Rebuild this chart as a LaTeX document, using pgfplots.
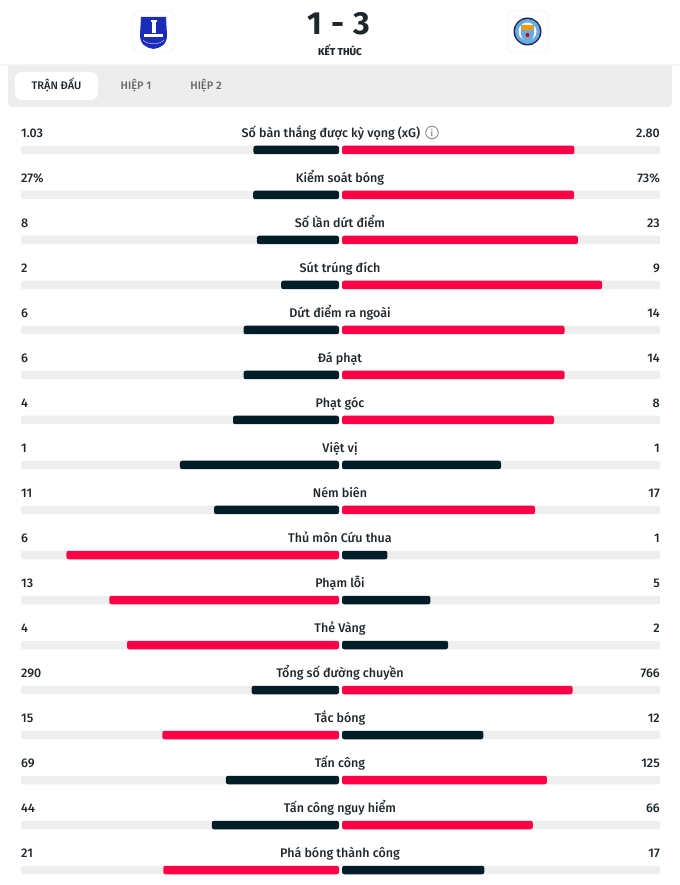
\documentclass[border=0pt]{standalone}
\usepackage{fontspec}
\IfFontExistsTF{Fira Sans Medium}{\setmainfont{Fira Sans}[UprightFont={* Medium}]}{\setmainfont{Fira Sans}}
\newfontfamily\scorefont{Fira Sans}
\usepackage{pgfplots}
\usepackage{pgfplotstable}
\pgfplotsset{compat=1.18}

\definecolor{mcred}{HTML}{FF0046}
\definecolor{dark}{HTML}{011E28}
\definecolor{track}{HTML}{EEEEEE}
\definecolor{txt}{HTML}{1E272C}
\definecolor{band}{HTML}{EDEDED}
\definecolor{evblue}{HTML}{1B2DB8}
\definecolor{cityblue}{HTML}{6CABDD}
\definecolor{citynavy}{HTML}{1C2C5B}

% a = Everton (left), b = Man City (right)
\pgfplotstableread{
a b
1.03 2.80
27 73
8 23
2 9
6 14
6 14
4 8
1 1
11 17
6 1
13 5
4 2
290 766
15 12
69 125
44 66
21 17
}\stats

\pgfplotsset{
  statax/.style={scale only axis, width=318bp, height=765bp,
    xmin=0, xmax=1, ymin=-0.5, ymax=16.5, y dir=reverse,
    hide axis, clip=false, anchor=north west},
  barst/.style={xbar, bar width=8.5bp, bar shift=0pt, draw=none, rounded corners=2.2bp},
}

\newcommand\lbl{\fontsize{12.5bp}{15bp}\selectfont}

\begin{document}
\begin{tikzpicture}
\begin{scope}[x=1bp,y=1bp]
\fill[white] (0,0) rectangle (680,885);

% ---- header ----
\draw[black!8, fill=white, rounded corners=6bp] (133,885-11) rectangle (174,885-52);
\draw[black!8, fill=white, rounded corners=6bp] (507,885-11) rectangle (548,885-52);
% Everton crest (simplified)
\fill[evblue] (141,885-17) -- (166,885-17) -- (167,885-35)
  .. controls (167,885-45) and (160,885-48) .. (153.5,885-49)
  .. controls (147,885-48) and (140,885-45) .. (140,885-35) -- cycle;
\fill[white] (151.5,885-20) rectangle (155.5,885-33);
\fill[white] (150.5,885-20) rectangle (156.5,885-22);
\fill[white] (144,885-34) rectangle (163,885-37.5);
\draw[white!70!evblue, line width=0.5bp] (143,885-40) .. controls (147,885-45) and (160,885-45) .. (164,885-40);
% Man City crest (simplified)
\fill[citynavy] (527.5,885-31.5) circle (14);
\fill[cityblue] (527.5,885-31.5) circle (12.5);
\fill[white] (527.5,885-31.5) circle (9);
\fill[cityblue] (521,885-25) -- (534,885-25) -- (534,885-34) .. controls (534,885-39) and (530,885-41) .. (527.5,885-42) .. controls (525,885-41) and (521,885-39) .. (521,885-34) -- cycle;
\fill[orange!80!yellow] (522,885-25) rectangle (533,885-30);
\fill[red!80!black] (527.5,885-35) circle (2);

\node[font=\scorefont\bfseries\fontsize{32bp}{32bp}\selectfont, text=txt, anchor=base] at (339,885-35) {1\hspace*{9bp}-\hspace*{9bp}3};
\node[font=\bfseries\fontsize{10bp}{12bp}\selectfont, text=txt, anchor=base] at (340,885-55.5) {KẾT THÚC};

% ---- tabs band ----
\fill[black!4] (0,885-64) rectangle (680,885-66);
\fill[band, rounded corners=4bp] (8,885-66) rectangle (672,885-107);
\fill[band] (8,885-66) rectangle (672,885-72);
\fill[white, rounded corners=7bp] (15,885-72) rectangle (98,885-100);
\node[font=\fontsize{11bp}{13bp}\selectfont, text=txt, anchor=base] at (56.5,885-90) {TRẬN ĐẤU};
\node[font=\fontsize{11bp}{13bp}\selectfont, text=black!60, anchor=base] at (136,885-90) {HIỆP 1};
\node[font=\fontsize{11bp}{13bp}\selectfont, text=black!60, anchor=base] at (206,885-90) {HIỆP 2};
\end{scope}

% ---- left (Everton) bars ----
\begin{axis}[statax, x dir=reverse, at={(21bp,757.5bp)}]
\addplot[barst, fill=track] table[x expr=1, y expr=\coordindex]{\stats};
\addplot[barst, fill=mcred] table[x expr={\thisrow{a}>\thisrow{b} ? \thisrow{a}/(\thisrow{a}+\thisrow{b}) : nan}, y expr=\coordindex]{\stats};
\addplot[barst, fill=dark] table[x expr={\thisrow{a}>\thisrow{b} ? nan : \thisrow{a}/(\thisrow{a}+\thisrow{b})}, y expr=\coordindex]{\stats};
\end{axis}

% ---- right (Man City) bars ----
\begin{axis}[statax, at={(342bp,757.5bp)}]
\addplot[barst, fill=track] table[x expr=1, y expr=\coordindex]{\stats};
\addplot[barst, fill=mcred] table[x expr={\thisrow{b}>\thisrow{a} ? \thisrow{b}/(\thisrow{a}+\thisrow{b}) : nan}, y expr=\coordindex]{\stats};
\addplot[barst, fill=dark] table[x expr={\thisrow{b}>\thisrow{a} ? nan : \thisrow{b}/(\thisrow{a}+\thisrow{b})}, y expr=\coordindex]{\stats};
\end{axis}

\begin{scope}[x=1bp,y=1bp]
% ---- labels and values ----
\foreach \l/\va/\vb [count=\i from 0] in {
  {Số bàn thắng được kỳ vọng (xG)}/1.03/2.80,
  {Kiểm soát bóng}/27\%/73\%,
  {Số lần dứt điểm}/8/23,
  {Sút trúng đích}/2/9,
  {Dứt điểm ra ngoài}/6/14,
  {Đá phạt}/6/14,
  {Phạt góc}/4/8,
  {Việt vị}/1/1,
  {Ném biên}/11/17,
  {Thủ môn Cứu thua}/6/1,
  {Phạm lỗi}/13/5,
  {Thẻ Vàng}/4/2,
  {Tổng số đường chuyền}/290/766,
  {Tắc bóng}/15/12,
  {Tấn công}/69/125,
  {Tấn công nguy hiểm}/44/66,
  {Phá bóng thành công}/21/17} {
  \ifnum\i=0
    \node[font=\lbl, text=txt, anchor=base] at (331,885-137.5) {\l};
  \else
    \node[font=\lbl, text=txt, anchor=base] at (340,885-137.5-45*\i) {\l};
  \fi
  \node[font=\lbl, text=txt, anchor=base west, inner sep=0pt] at (21,885-137.5-45*\i) {\va};
  \node[font=\lbl, text=txt, anchor=base east, inner sep=0pt] at (660,885-137.5-45*\i) {\vb};
}
% info icon
\draw[black!45, line width=0.9bp] (432,885-132.5) circle (6.3);
\node[font=\fontsize{9bp}{9bp}\selectfont, text=black!50] at (432,885-132.5) {i};
\end{scope}
\end{tikzpicture}
\end{document}
